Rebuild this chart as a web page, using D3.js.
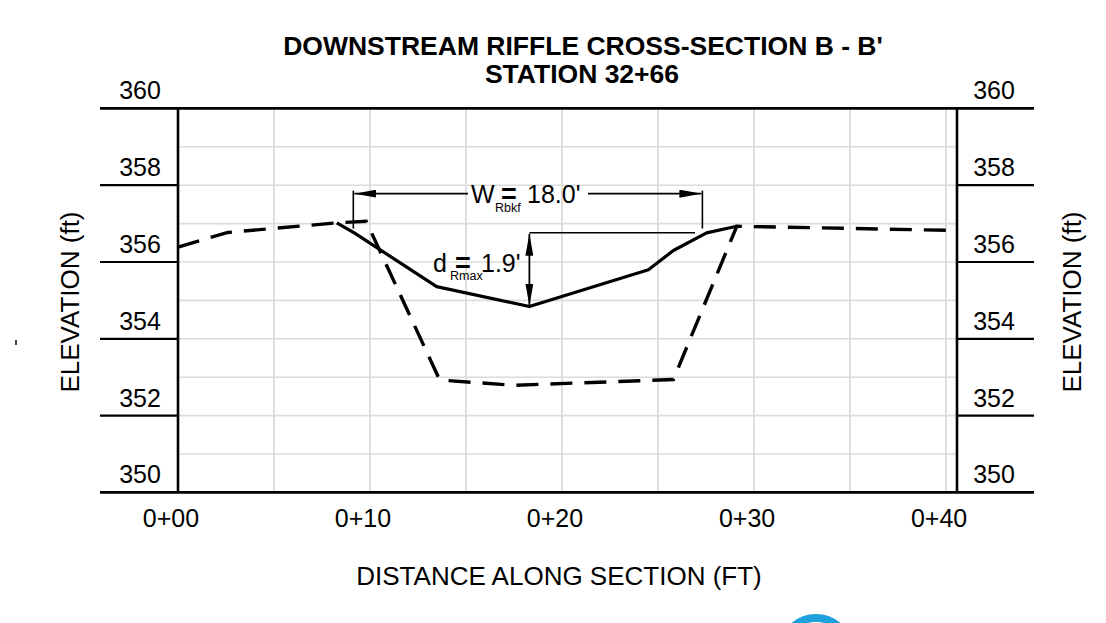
<!DOCTYPE html>
<html>
  <head>
    <meta charset="utf-8">
    <title>Downstream Riffle Cross-Section B - B'</title>
    <script src="https://d3js.org/d3.v7.min.js"></script>
    <style>
      body { margin: 0; background: #fff; }
      svg { display: block; font-family: "Liberation Sans", Arial, sans-serif; }
    </style>
  </head>
  <body>
  </body>
  <script type="text/javascript">
    // tick values / labels
    var elevTicks = [350, 352, 354, 356, 358, 360];
    var elevGrid = [351, 352, 353, 354, 355, 356, 357, 358, 359];
    var staTicks = [0, 10, 20, 30, 40];
    var staLabels = ["0+00", "0+10", "0+20", "0+30", "0+40"];
    var staGrid = [5, 10, 15, 20, 25, 30, 35, 40];

    // existing ground (dashed)
    var existSta  = [0, 2.6, 8.3, 9.8, 13.6, 13.8, 17.5, 25.8, 29.1, 31.4, 40.57];
    var existElev = [356.39, 356.77, 357.02, 357.06, 352.96, 352.92, 352.79, 352.94, 356.93, 356.91, 356.82];

    // proposed riffle (solid)
    var propSta  = [8.27, 9.2, 13.47, 18.3, 24.5, 25.8, 27.53, 29.1];
    var propElev = [357.02, 356.75, 355.36, 354.84, 355.80, 356.3, 356.76, 356.93];

    // bankfull width / max depth annotation
    var bkfLeft = 9.13, bkfRight = 27.31, bkfDimElev = 357.78;
    var bkfElev = 356.76, thalwegSta = 18.3, thalwegElev = 354.84;

    var svg = d3.select("body").append("svg")
      .attr("width", 1106)
      .attr("height", 623);

    var x = d3.scaleLinear().domain([0, 40.57]).range([178, 957]);
    var y = d3.scaleLinear().domain([350, 360]).range([492.4, 108.4]);

    var left = 100, right = 1034;

    // grid
    svg.append("g").selectAll("line")
      .data(elevGrid)
      .enter().append("line")
        .attr("x1", x(0)).attr("x2", x(40.57))
        .attr("y1", function(d){ return y(d); })
        .attr("y2", function(d){ return y(d); })
        .attr("stroke", "#dcdcdc")
        .attr("stroke-width", 1.6);

    svg.append("g").selectAll("line")
      .data(staGrid)
      .enter().append("line")
        .attr("x1", function(d){ return x(d); })
        .attr("x2", function(d){ return x(d); })
        .attr("y1", y(360)).attr("y2", y(350))
        .attr("stroke", "#dcdcdc")
        .attr("stroke-width", 1.8);

    // frame + elevation ticks on both sides
    var frame = svg.append("g").attr("stroke", "#000");
    frame.selectAll(".tl")
      .data(elevTicks)
      .enter().append("line")
        .attr("x1", left)
        .attr("x2", function(d){ return (d == 350 || d == 360) ? right : x(0); })
        .attr("y1", function(d){ return y(d); })
        .attr("y2", function(d){ return y(d); })
        .attr("stroke-width", function(d){ return (d == 350 || d == 360) ? 2.6 : 2.2; });
    frame.selectAll(".tr")
      .data(elevTicks.filter(function(d){ return d != 350 && d != 360; }))
      .enter().append("line")
        .attr("x1", x(40.57)).attr("x2", right)
        .attr("y1", function(d){ return y(d); })
        .attr("y2", function(d){ return y(d); })
        .attr("stroke-width", 2.2);
    frame.append("line")
      .attr("x1", x(0)).attr("x2", x(0))
      .attr("y1", y(360)).attr("y2", y(350))
      .attr("stroke-width", 2.6);
    frame.append("line")
      .attr("x1", x(40.57)).attr("x2", x(40.57))
      .attr("y1", y(360)).attr("y2", y(350))
      .attr("stroke-width", 2.6);

    // elevation labels
    svg.append("g").selectAll("text")
      .data(elevTicks)
      .enter().append("text")
        .attr("x", 140)
        .attr("y", function(d){ return y(d) - 9; })
        .attr("text-anchor", "middle")
        .attr("font-size", 25)
        .text(function(d){ return d; });
    svg.append("g").selectAll("text")
      .data(elevTicks)
      .enter().append("text")
        .attr("x", 994)
        .attr("y", function(d){ return y(d) - 9; })
        .attr("text-anchor", "middle")
        .attr("font-size", 25)
        .text(function(d){ return d; });

    // station labels
    svg.append("g").selectAll("text")
      .data(staTicks)
      .enter().append("text")
        .attr("x", function(d){ return x(d) - 7; })
        .attr("y", 527)
        .attr("text-anchor", "middle")
        .attr("font-size", 25)
        .text(function(d, i){ return staLabels[i]; });

    // titles
    svg.append("text")
      .attr("x", 583).attr("y", 55)
      .attr("text-anchor", "middle")
      .attr("font-size", 26.5)
      .attr("font-weight", "bold")
      .text("DOWNSTREAM RIFFLE CROSS-SECTION B - B'");
    svg.append("text")
      .attr("x", 582).attr("y", 83)
      .attr("text-anchor", "middle")
      .attr("font-size", 26.5)
      .attr("font-weight", "bold")
      .text("STATION 32+66");

    svg.append("text")
      .attr("x", 559).attr("y", 585)
      .attr("text-anchor", "middle")
      .attr("font-size", 26)
      .text("DISTANCE ALONG SECTION (FT)");

    svg.append("text")
      .attr("transform", "translate(79,302) rotate(-90)")
      .attr("text-anchor", "middle")
      .attr("font-size", 26)
      .text("ELEVATION (ft)");
    svg.append("text")
      .attr("transform", "translate(1081,302) rotate(-90)")
      .attr("text-anchor", "middle")
      .attr("font-size", 26)
      .text("ELEVATION (ft)");

    // profiles
    var line = d3.line()
      .x(function(d){ return x(d[0]); })
      .y(function(d){ return y(d[1]); });

    svg.append("path")
      .datum(d3.zip(existSta, existElev))
      .attr("d", line)
      .attr("fill", "none")
      .attr("stroke", "#000")
      .attr("stroke-width", 3.4)
      .attr("stroke-dasharray", "22,12");

    svg.append("path")
      .datum(d3.zip(propSta, propElev))
      .attr("d", line)
      .attr("fill", "none")
      .attr("stroke", "#000")
      .attr("stroke-width", 3.2)
      .attr("stroke-linejoin", "round");

    // annotations
    var ann = svg.append("g");
    var defs = svg.append("defs");
    defs.append("marker")
      .attr("id", "arw")
      .attr("viewBox", "0 0 22 8")
      .attr("refX", 22).attr("refY", 4)
      .attr("markerWidth", 22).attr("markerHeight", 8)
      .attr("markerUnits", "userSpaceOnUse")
      .attr("orient", "auto-start-reverse")
      .append("path")
        .attr("d", "M0,0L22,4L0,8Z")
        .attr("fill", "#000");

    // bankfull extension lines
    ann.selectAll(".ext")
      .data([bkfLeft, bkfRight])
      .enter().append("line")
        .attr("x1", function(d){ return x(d); })
        .attr("x2", function(d){ return x(d); })
        .attr("y1", y(bkfDimElev) - 3)
        .attr("y2", y(356.87))
        .attr("stroke", "#000")
        .attr("stroke-width", 1.6);

    var wText = ann.append("g");
    ann.append("line")
      .attr("x1", x(bkfLeft) + 1).attr("x2", 468)
      .attr("y1", y(bkfDimElev)).attr("y2", y(bkfDimElev))
      .attr("stroke", "#000").attr("stroke-width", 1.6)
      .attr("marker-start", "url(#arw)");
    ann.append("line")
      .attr("x1", 588).attr("x2", x(bkfRight) - 1)
      .attr("y1", y(bkfDimElev)).attr("y2", y(bkfDimElev))
      .attr("stroke", "#000").attr("stroke-width", 1.6)
      .attr("marker-end", "url(#arw)");

    // the "=" sits right over the subscript, as on the drawing
    wText.append("text").attr("x", 471).attr("y", 203).attr("font-size", 25).text("W");
    wText.append("text").attr("x", 495).attr("y", 212).attr("font-size", 12.5).text("Rbkf");
    wText.append("text").attr("x", 501).attr("y", 203).attr("font-size", 27).attr("font-weight", "bold").text("=");
    wText.append("text").attr("x", 527).attr("y", 203).attr("font-size", 25).text("18.0'");

    // max depth
    ann.append("line")
      .attr("x1", x(thalwegSta)).attr("x2", 695)
      .attr("y1", y(bkfElev)).attr("y2", y(bkfElev))
      .attr("stroke", "#000").attr("stroke-width", 1.6);
    ann.append("line")
      .attr("x1", x(thalwegSta)).attr("x2", x(thalwegSta))
      .attr("y1", y(bkfElev) + 1).attr("y2", y(thalwegElev) - 1)
      .attr("stroke", "#000").attr("stroke-width", 1.8)
      .attr("marker-start", "url(#arw)")
      .attr("marker-end", "url(#arw)");

    var dText = ann.append("g");
    dText.append("text").attr("x", 433).attr("y", 272).attr("font-size", 25).text("d");
    dText.append("text").attr("x", 450).attr("y", 280).attr("font-size", 12.5).text("Rmax");
    dText.append("text").attr("x", 455).attr("y", 272).attr("font-size", 27).attr("font-weight", "bold").text("=");
    dText.append("text").attr("x", 481).attr("y", 272).attr("font-size", 25).text("1.9'");

    // stray marks on the sheet
    svg.append("rect")
      .attr("x", 15).attr("y", 340)
      .attr("width", 2).attr("height", 5)
      .attr("fill", "#444");
    svg.append("circle")
      .attr("cx", 816).attr("cy", 652)
      .attr("r", 34)
      .attr("fill", "none")
      .attr("stroke", "#1ea1dc")
      .attr("stroke-width", 8);
  </script>
</html>
